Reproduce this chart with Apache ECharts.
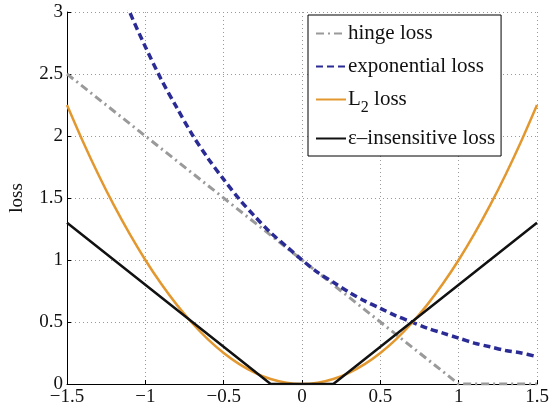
<!DOCTYPE html>
<html>
<head>
<meta charset="utf-8">
<script src="https://cdn.jsdelivr.net/npm/echarts@6/dist/echarts.min.js"></script>
<style>
  html, body { margin: 0; padding: 0; background: #fff; }
  #chart { width: 558px; height: 411px; }
</style>
</head>
<body>
<div id="chart"></div>
<script>
// data
var xTicks = [-1.5, -1, -0.5, 0, 0.5, 1, 1.5];
var yTicks = [0, 0.5, 1, 1.5, 2, 2.5, 3];

var hingeLoss = [[-1.5, 2.5], [1, 0], [1.5, 0]];
var expX = [-1.2, -1.1, -1.0, -0.9, -0.8, -0.7, -0.6, -0.5, -0.4, -0.3, -0.2, -0.1, 0, 0.1, 0.2, 0.3, 0.4, 0.5, 0.6, 0.7, 0.8, 0.9, 1.0, 1.1, 1.2, 1.3, 1.4, 1.5];
var expY = [3.32, 3.00, 2.72, 2.46, 2.23, 2.01, 1.82, 1.65, 1.49, 1.35, 1.22, 1.11, 1.00, 0.90, 0.82, 0.74, 0.67, 0.61, 0.55, 0.50, 0.45, 0.41, 0.37, 0.33, 0.30, 0.27, 0.25, 0.22];
var l2X = [-1.5, -1.4, -1.3, -1.2, -1.1, -1.0, -0.9, -0.8, -0.7, -0.6, -0.5, -0.4, -0.3, -0.2, -0.1, 0, 0.1, 0.2, 0.3, 0.4, 0.5, 0.6, 0.7, 0.8, 0.9, 1.0, 1.1, 1.2, 1.3, 1.4, 1.5];
var l2Y = [2.25, 1.96, 1.69, 1.44, 1.21, 1.00, 0.81, 0.64, 0.49, 0.36, 0.25, 0.16, 0.09, 0.04, 0.01, 0, 0.01, 0.04, 0.09, 0.16, 0.25, 0.36, 0.49, 0.64, 0.81, 1.00, 1.21, 1.44, 1.69, 1.96, 2.25];
var epsLoss = [[-1.5, 1.3], [-0.2, 0], [0.2, 0], [1.5, 1.3]];

function pairs(xs, ys) {
  return xs.map(function (x, i) { return [x, ys[i]]; });
}
function fmt(v) {
  return String(v).replace('-', '\u2212');
}

var font = 'Liberation Serif, Times New Roman, serif';
var chart = echarts.init(document.getElementById('chart'));

var option = {
  backgroundColor: '#fff',
  animation: false,
  textStyle: { fontFamily: font },
  grid: { left: 66, right: 21, top: 12, bottom: 27 },
  legend: {
    orient: 'vertical',
    left: 308,
    top: 15,
    padding: [8, 6, 7, 7],
    itemGap: 12,
    itemWidth: 30,
    itemHeight: 12,
    borderColor: '#000',
    borderWidth: 1,
    backgroundColor: '#fff',
    itemStyle: { opacity: 0 },
    textStyle: {
      fontFamily: font, fontSize: 21, color: '#111', padding: [0, 0, 0, -3],
      rich: {
        sub: { fontFamily: font, fontSize: 16, color: '#111', verticalAlign: 'bottom', padding: [17, 0, 0, 0] }
      }
    },
    formatter: function (name) {
      if (name === 'L2 loss') return 'L{sub|2} loss';
      return name;
    },
    data: ['hinge loss', 'exponential loss', 'L2 loss', '\u03b5\u2013insensitive loss']
  },
  xAxis: {
    type: 'value',
    min: -1.5, max: 1.5, interval: 0.5,
    axisLine: { show: true, onZero: false, lineStyle: { color: '#000', width: 1 } },
    axisTick: { show: true, inside: true, length: 4, lineStyle: { color: '#000' } },
    axisLabel: { color: '#111', fontSize: 19, fontFamily: font, margin: 4, formatter: fmt },
    splitLine: { show: true, lineStyle: { color: '#999', type: [1, 3], width: 1 } }
  },
  yAxis: {
    type: 'value',
    min: 0, max: 3, interval: 0.5,
    name: 'loss',
    nameLocation: 'middle',
    nameGap: 40,
    nameTextStyle: { color: '#111', fontSize: 19, fontFamily: font },
    axisLine: { show: true, onZero: false, lineStyle: { color: '#000', width: 1 } },
    axisTick: { show: true, inside: true, length: 4, lineStyle: { color: '#000' } },
    axisLabel: { color: '#111', fontSize: 19, fontFamily: font, margin: 4, formatter: fmt },
    splitLine: { show: true, lineStyle: { color: '#999', type: [1, 3], width: 1 } }
  },
  series: [
    {
      name: 'hinge loss', type: 'line', symbol: 'none', clip: true,
      data: hingeLoss,
      color: '#9a9a9a',
      lineStyle: { color: '#9a9a9a', width: 3, type: [8, 4, 2, 4] }
    },
    {
      name: 'exponential loss', type: 'line', symbol: 'none', clip: true, smooth: 0.3,
      data: pairs(expX, expY),
      color: '#2b2b96',
      lineStyle: { color: '#2b2b96', width: 3.5, type: [7, 4] }
    },
    {
      name: 'L2 loss', type: 'line', symbol: 'none', clip: true, smooth: 0.3,
      data: pairs(l2X, l2Y),
      color: '#e3982f',
      lineStyle: { color: '#e3982f', width: 2.5 }
    },
    {
      name: '\u03b5\u2013insensitive loss', type: 'line', symbol: 'none', clip: true,
      data: epsLoss,
      color: '#111',
      lineStyle: { color: '#111', width: 2.5 }
    }
  ]
};

chart.setOption(option);
</script>
</body>
</html>
